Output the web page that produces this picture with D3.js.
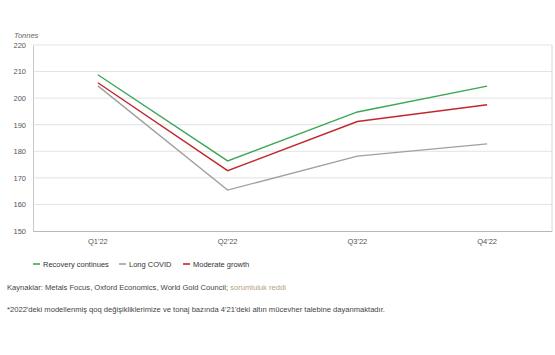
<!DOCTYPE html>
<html><head><meta charset="utf-8">
<script src="https://cdn.jsdelivr.net/npm/d3@7"></script>
<style>body{margin:0;background:#fff;font-family:"Liberation Sans",Arial,sans-serif;}</style>
</head><body>
<svg id="c" width="555" height="355"></svg>
<script>
const categories = ["Q1'22","Q2'22","Q3'22","Q4'22"];
const recovery = [208.8, 176.4, 194.8, 204.5];
const longCovid = [204.6, 165.4, 178.2, 182.8];
const moderate = [205.8, 172.7, 191.2, 197.5];
const yTicks = [150,160,170,180,190,200,210,220];
const seriesNames = ["Recovery continues","Long COVID","Moderate growth"];
const seriesColors = ["#3aa757","#a0a0a0","#c1272d"];

const series = [
  {name: seriesNames[0], values: recovery, color: seriesColors[0]},
  {name: seriesNames[1], values: longCovid, color: seriesColors[1]},
  {name: seriesNames[2], values: moderate, color: seriesColors[2]}
];
const drawOrder = [series[1], series[2], series[0]];

const svg = d3.select("#c");
const L = 33, R = 552, T = 45, B = 231;
const x = d3.scaleBand().domain(categories).range([L, R]);
const y = d3.scaleLinear().domain([150, 220]).range([B, T]);

svg.append("g").selectAll("line").data(yTicks.slice(1)).join("line")
  .attr("x1", L).attr("x2", R)
  .attr("y1", d => y(d)).attr("y2", d => y(d))
  .attr("stroke", "#e3e3e3").attr("stroke-width", 1);
svg.append("line").attr("x1", R).attr("x2", R).attr("y1", T).attr("y2", B)
  .attr("stroke", "#d8d8d8");

const ya = svg.append("g").attr("transform", `translate(${L},0)`)
  .call(d3.axisLeft(y).tickValues(yTicks).tickSize(0).tickPadding(7));
ya.select(".domain").attr("stroke", "#c8c8c8");
ya.selectAll("text").attr("font-size", 7.5).attr("fill", "#555")
  .attr("font-family", "Liberation Sans, Arial, sans-serif");

const xa = svg.append("g").attr("transform", `translate(0,${B})`)
  .call(d3.axisBottom(x).tickSize(0).tickPadding(8));
xa.select(".domain").attr("stroke", "#b8b8b8");
xa.selectAll("text").attr("font-size", 7.5).attr("fill", "#555")
  .attr("font-family", "Liberation Sans, Arial, sans-serif");

svg.append("text").attr("x", 14).attr("y", 38).text("Tonnes")
  .attr("font-size", 7.5).attr("font-style", "italic").attr("fill", "#666");

const line = d3.line().x((d, i) => x(categories[i]) + x.bandwidth() / 2).y(d => y(d));
svg.append("g").selectAll("path").data(drawOrder).join("path")
  .attr("d", d => line(d.values))
  .attr("fill", "none").attr("stroke", d => d.color).attr("stroke-width", 1.4);

const legX = [33, 119, 183];
const lg = svg.append("g").selectAll("g").data(series).join("g")
  .attr("transform", (d, i) => `translate(${legX[i]},264)`);
lg.append("line").attr("x1", 0).attr("x2", 7).attr("y1", 0).attr("y2", 0)
  .attr("stroke", d => d.color).attr("stroke-width", 1.6);
lg.append("text").attr("x", 10).attr("y", 3).text(d => d.name)
  .attr("font-size", 7.5).attr("fill", "#333");

const src = svg.append("text").attr("x", 7).attr("y", 290).attr("font-size", 7.6).attr("fill", "#444");
src.append("tspan").text("Kaynaklar: Metals Focus, Oxford Economics, World Gold Council; ");
src.append("tspan").text("sorumluluk reddi").attr("fill", "#b3a27a");
svg.append("text").attr("x", 7).attr("y", 312).attr("font-size", 7.6).attr("fill", "#444")
  .text("*2022'deki modellenmiş qoq değişikliklerimize ve tonaj bazında 4'21'deki altın mücevher talebine dayanmaktadır.");
</script>
</body></html>
